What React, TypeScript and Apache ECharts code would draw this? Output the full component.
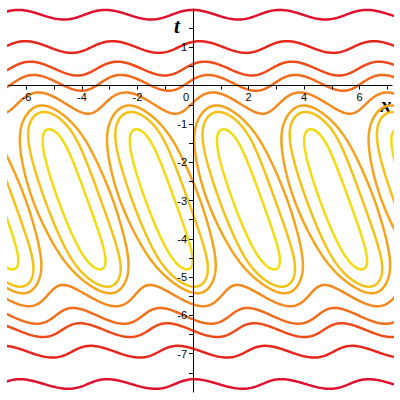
import React, { useEffect, useRef } from "react";
import * as echarts from "echarts";

// ---- axis ranges and ticks ----
const X_RANGE = [-6.63, 7.17];
const T_RANGE = [-8, 2];
const xTickValues = [-6, -5, -4, -3, -2, -1, 0, 1, 2, 3, 4, 5, 6, 7];
const xLabelValues = [-6, -4, -2, 0, 2, 4, 6];
const tTickValues = [-7.5, -7, -6.5, -6, -5.5, -5, -4.5, -4, -3.5, -3, -2.5, -2, -1.5, -1, -0.5, 0.5, 1, 1.5];
const tLabelValues = [-7, -6, -5, -4, -3, -2, -1, 1];

// ---- contour levels (outermost red -> innermost yellow) ----
const contourLevels = [-16.2, -10.08, -6.68, -4.75, -2.55, -1.22, -0.68, 0.24];
const contourColors = ["#e0102e", "#e6261c", "#ee4a1a", "#f06c1c", "#f2881e", "#f4a41c", "#f4c216", "#f2dc10"];

// ---- field parameters ----
const fieldCenterT = [-2.97];
const fieldRamp = [0.83, 3.8, 5]; // slope, plateau radius^2, smoothing
const fieldWave = [2, 1, -0.92, -0.042]; // x frequency, t coupling, phase, quadratic phase

function field(x: number, t: number): number {
  const v = t - fieldCenterT[0];
  const d = v * v - fieldRamp[1];
  const g = (-fieldRamp[0] * (Math.sqrt(d * d + fieldRamp[2]) + d)) / 2;
  const w = fieldWave[0] * x + fieldWave[1] * t + fieldWave[2] + fieldWave[3] * v * v;
  return g + Math.cos(w);
}

const GRID = { left: 9, right: 8, top: 9, bottom: 8 };
const SIZE = 400;
const NX = 330;
const NY = 250;
const PAD = 0.12; // sample slightly beyond the axes, the grid clips the lines

function buildGrid() {
  const x0 = X_RANGE[0] - PAD, x1 = X_RANGE[1] + PAD;
  const t0 = T_RANGE[0] - PAD, t1 = T_RANGE[1] + PAD;
  const xs = new Float64Array(NX);
  const ts = new Float64Array(NY);
  for (let i = 0; i < NX; i++) xs[i] = x0 + ((x1 - x0) * i) / (NX - 1);
  for (let j = 0; j < NY; j++) ts[j] = t0 + ((t1 - t0) * j) / (NY - 1);
  const vals = new Float64Array(NX * NY);
  for (let j = 0; j < NY; j++) for (let i = 0; i < NX; i++) vals[j * NX + i] = field(xs[i], ts[j]);
  return { xs, ts, vals };
}

function contourLines(grid: { xs: Float64Array; ts: Float64Array; vals: Float64Array }, L: number) {
  const { xs, ts, vals } = grid;
  const pts = new Map<number, [number, number]>();
  const adj = new Map<number, number[]>();
  const VOFF = NX * NY;
  const link = (e1: number, e2: number) => {
    if (!adj.has(e1)) adj.set(e1, []);
    if (!adj.has(e2)) adj.set(e2, []);
    adj.get(e1)!.push(e2);
    adj.get(e2)!.push(e1);
  };
  for (let j = 0; j < NY - 1; j++) {
    for (let i = 0; i < NX - 1; i++) {
      const a = vals[j * NX + i] - L;
      const b = vals[j * NX + i + 1] - L;
      const c = vals[(j + 1) * NX + i + 1] - L;
      const d = vals[(j + 1) * NX + i] - L;
      const sa = a > 0, sb = b > 0, sc = c > 0, sd = d > 0;
      const bottom = j * NX + i;
      const right = VOFF + j * NX + i + 1;
      const top = (j + 1) * NX + i;
      const left = VOFF + j * NX + i;
      const list: number[] = [];
      if (sa !== sb) {
        list.push(bottom);
        if (!pts.has(bottom)) pts.set(bottom, [xs[i] + (a / (a - b)) * (xs[i + 1] - xs[i]), ts[j]]);
      }
      if (sb !== sc) {
        list.push(right);
        if (!pts.has(right)) pts.set(right, [xs[i + 1], ts[j] + (b / (b - c)) * (ts[j + 1] - ts[j])]);
      }
      if (sc !== sd) {
        list.push(top);
        if (!pts.has(top)) pts.set(top, [xs[i] + (d / (d - c)) * (xs[i + 1] - xs[i]), ts[j + 1]]);
      }
      if (sd !== sa) {
        list.push(left);
        if (!pts.has(left)) pts.set(left, [xs[i], ts[j] + (a / (a - d)) * (ts[j + 1] - ts[j])]);
      }
      if (list.length === 2) link(list[0], list[1]);
      else if (list.length === 4) {
        const center = (a + b + c + d) / 4 > 0;
        if (center === sa) {
          link(bottom, right);
          link(top, left);
        } else {
          link(left, bottom);
          link(right, top);
        }
      }
    }
  }
  const visited = new Set<number>();
  const paths: [number, number][][] = [];
  const walk = (start: number, closed: boolean) => {
    const path: [number, number][] = [pts.get(start)!];
    visited.add(start);
    let prev = -1;
    let cur = start;
    for (;;) {
      const nb = adj.get(cur) || [];
      let next = -1;
      for (const n of nb) if (n !== prev && !visited.has(n)) { next = n; break; }
      if (next < 0) break;
      visited.add(next);
      path.push(pts.get(next)!);
      prev = cur;
      cur = next;
    }
    if (closed) path.push(pts.get(start)!);
    paths.push(path);
  };
  for (const [id, nb] of adj) if (nb.length === 1 && !visited.has(id)) walk(id, false);
  for (const [id] of adj) if (!visited.has(id)) walk(id, true);
  return paths;
}

const tickFont = "'Liberation Sans', Arial, sans-serif";

export default function App() {
  const ref = useRef<HTMLDivElement>(null);
  useEffect(() => {
    if (!ref.current) return;
    const chart = echarts.init(ref.current, undefined, { renderer: "svg" });
    const grid = buildGrid();
    const series: any[] = [];
    contourLevels.forEach((L, k) => {
      contourLines(grid, L).forEach((path) => {
        series.push({
          type: "line",
          data: path,
          showSymbol: false,
          symbol: "none",
          silent: true,
          clip: true,
          smooth: false,
          lineStyle: { color: contourColors[k], width: 2.5 },
          z: 2,
        });
      });
    });
    // place the axes through the origin (Maple "normal" axes)
    const plotW = SIZE - GRID.left - GRID.right;
    const plotH = SIZE - GRID.top - GRID.bottom;
    const zeroFromBottom = ((0 - T_RANGE[0]) / (T_RANGE[1] - T_RANGE[0])) * plotH;
    const zeroFromLeft = ((0 - X_RANGE[0]) / (X_RANGE[1] - X_RANGE[0])) * plotW;
    chart.setOption({
      animation: false,
      backgroundColor: "#ffffff",
      grid: { ...GRID, containLabel: false, outerBoundsMode: "none" },
      xAxis: {
        type: "value",
        position: "bottom",
        offset: -zeroFromBottom,
        min: X_RANGE[0],
        max: X_RANGE[1],
        splitLine: { show: false },
        axisLine: { onZero: false, lineStyle: { color: "#000", width: 1 } },
        axisTick: { customValues: xTickValues, length: 4, lineStyle: { color: "#000", width: 1 } },
        axisLabel: {
          customValues: xLabelValues,
          margin: 6,
          color: "#000",
          fontSize: 11,
          fontFamily: tickFont,
          formatter: (v: number) => (v === 0 ? "{z|0}" : String(v)),
          rich: { z: { padding: [0, 14, 0, 0], fontSize: 11, fontFamily: tickFont, color: "#000" } },
        },
        z: 3,
      },
      yAxis: {
        type: "value",
        position: "left",
        offset: -zeroFromLeft,
        min: T_RANGE[0],
        max: T_RANGE[1],
        splitLine: { show: false },
        axisLine: { onZero: false, lineStyle: { color: "#000", width: 1 } },
        axisTick: { customValues: tTickValues, length: 4, lineStyle: { color: "#000", width: 1 } },
        axisLabel: { customValues: tLabelValues, margin: 6, color: "#000", fontSize: 11, fontFamily: tickFont },
        z: 3,
      },
      graphic: [
        {
          type: "text",
          x: 177,
          y: 26,
          style: {
            text: "t",
            font: "italic bold 21px 'Liberation Serif', serif",
            fill: "#000",
            textAlign: "center",
            textVerticalAlign: "middle",
          },
        },
        {
          type: "text",
          x: 386,
          y: 104,
          style: {
            text: "x",
            font: "italic bold 22px 'Liberation Serif', serif",
            fill: "#000",
            textAlign: "center",
            textVerticalAlign: "middle",
          },
        },
      ],
      series,
    });
    return () => chart.dispose();
  }, []);
  return <div ref={ref} style={{ position: "fixed", left: 0, top: 0, width: 400, height: 400 }} />;
}
